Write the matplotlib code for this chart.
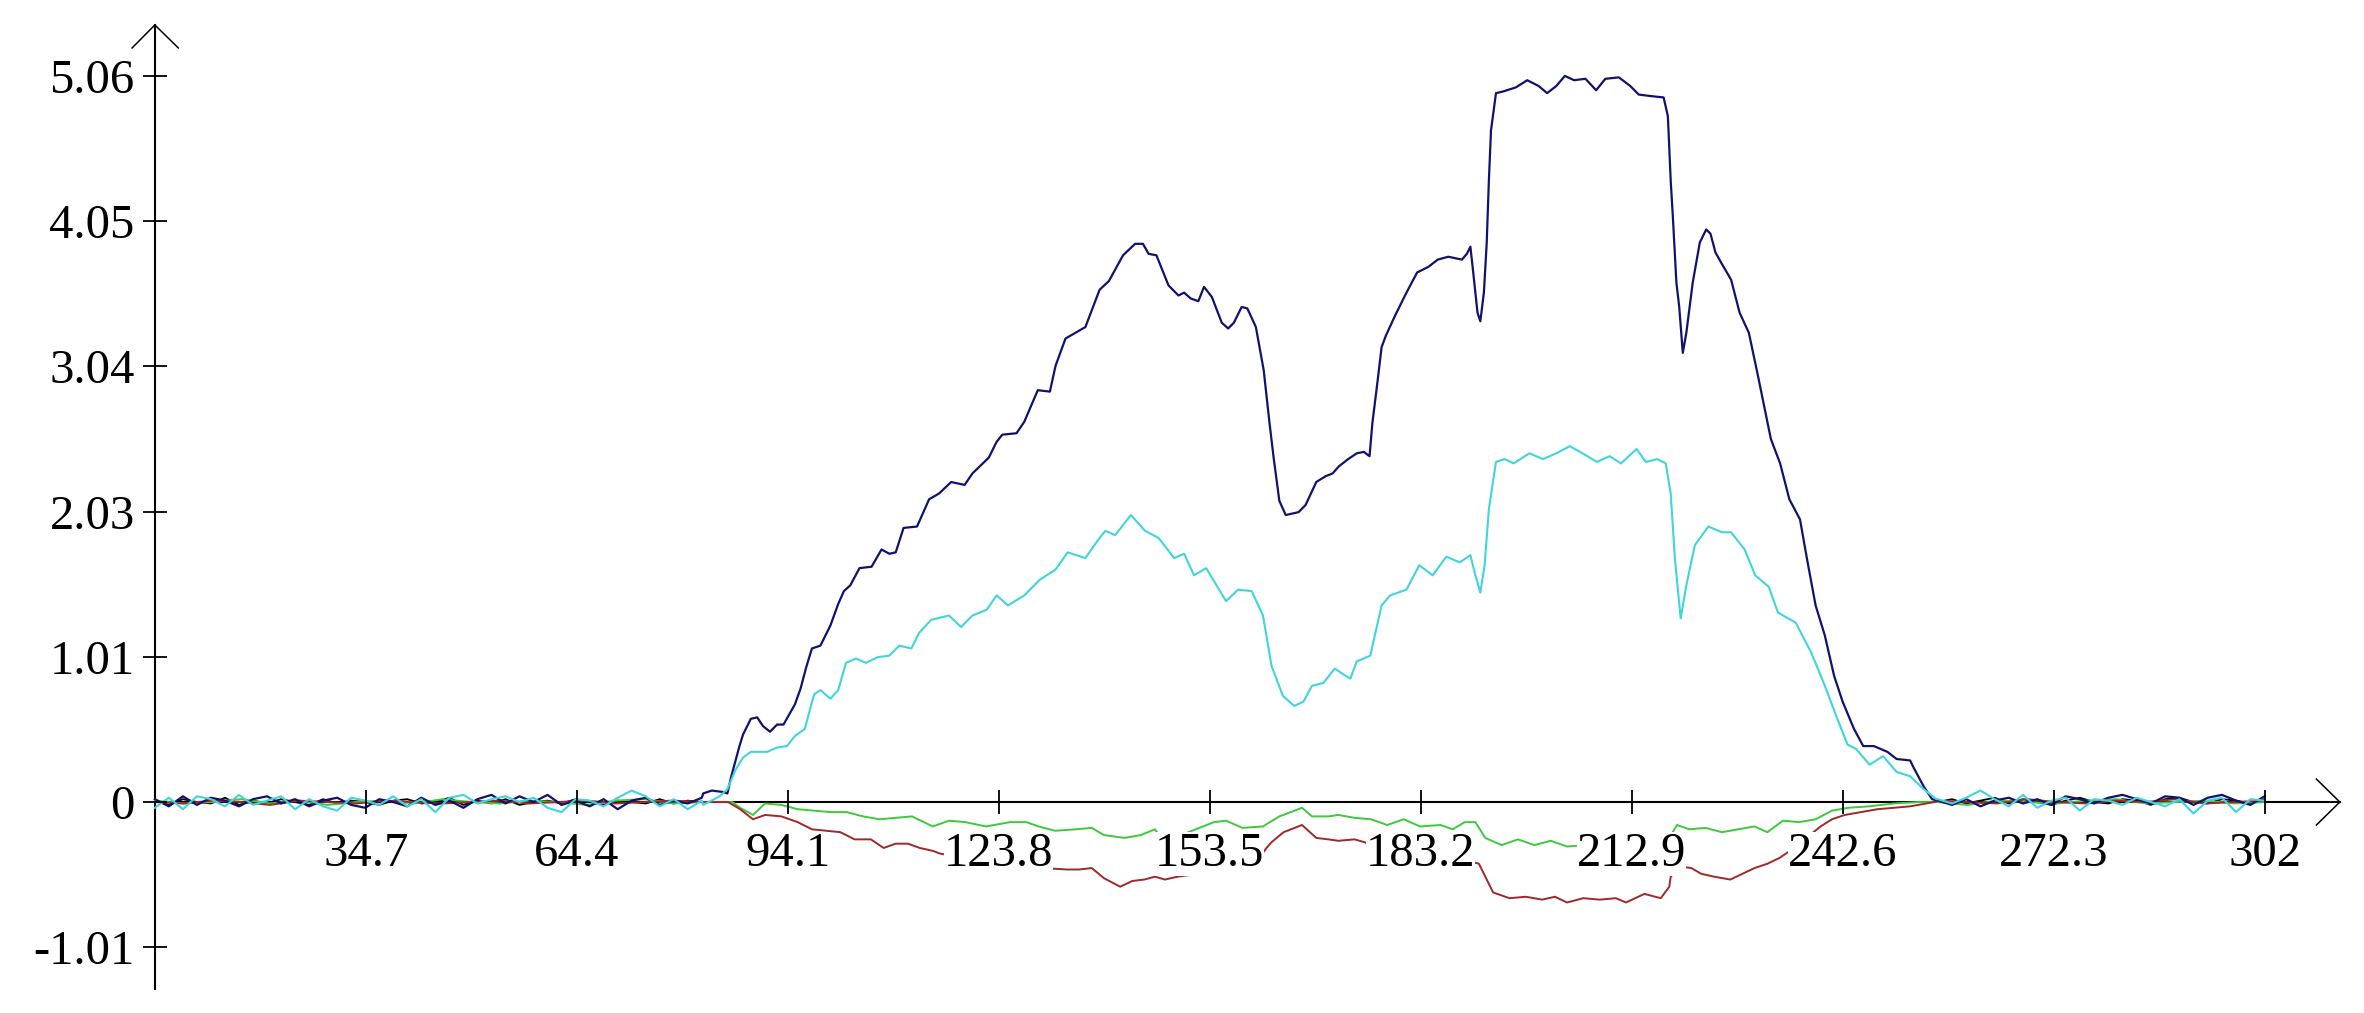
import numpy as np
import matplotlib
matplotlib.use('Agg')
import matplotlib.pyplot as plt

# --- tick values / labels ---
x_ticks = [34.7, 64.4, 94.1, 123.8, 153.5, 183.2, 212.9, 242.6, 272.3, 302]
x_labels = ['34.7', '64.4', '94.1', '123.8', '153.5', '183.2', '212.9', '242.6', '272.3', '302']
y_ticks = [-1.012, 0, 1.012, 2.024, 3.036, 4.048, 5.06]
y_labels = ['-1.01', '0', '1.01', '2.03', '3.04', '4.05', '5.06']

# --- flat noisy parts at both ends ---
navy_noise_l = [0.02, -0.03, 0.04, -0.02, 0.03, 0.01, -0.03, 0.02, 0.04, -0.01,
                0.02, -0.03, 0.01, 0.03, -0.02, -0.04, 0.02, 0.00, -0.03, 0.03,
                -0.02, 0.01, -0.04, 0.02, 0.05, -0.01, 0.04, 0.00, 0.05, -0.02,
                0.01, -0.03, 0.02, -0.05, 0.01, 0.03, -0.02, 0.01, -0.01, 0.03]
cyan_noise_l = [-0.04, 0.03, -0.05, 0.04, 0.02, -0.03, 0.05, -0.02, 0.01, 0.04,
                -0.05, 0.02, -0.03, -0.06, 0.03, 0.01, -0.02, 0.04, -0.03, 0.02,
                -0.07, 0.03, 0.05, -0.01, 0.02, 0.04, 0.00, 0.03, -0.04, -0.07,
                0.02, 0.01, -0.03, 0.03, 0.08, 0.04, -0.03, 0.02, -0.05, 0.01]
black_noise_l = [0.01, -0.02, 0.02, 0.00, -0.01, 0.03, -0.02, 0.01, -0.01, 0.02,
                 0.00, -0.02, 0.02, -0.01, 0.01, 0.00, -0.02, 0.01, 0.02, -0.01,
                 0.00, 0.03, -0.02, 0.01, -0.01, 0.02, -0.02, 0.00, 0.01, -0.01,
                 0.02, 0.00, -0.02, 0.01, 0.00, -0.01, 0.02, -0.01, 0.01, 0.00]
green_noise_l = [0.01, -0.01, 0.00, 0.02, -0.01, 0.01, -0.02, 0.00, 0.01, -0.01,
                 0.02, 0.00, -0.01, 0.01, 0.00, -0.02, 0.01, 0.02, -0.01, 0.00]
red_noise_l = [0.00, -0.01, 0.01, 0.00, -0.02, 0.01, 0.00, -0.01, 0.01, 0.00,
               -0.01, 0.00, 0.01, -0.01, 0.00, 0.01, -0.01, 0.00, 0.01, 0.00]

navy_noise_r = [0.01, -0.02, 0.02, -0.03, 0.01, 0.03, -0.01, 0.02, -0.02, 0.04, 0.02, -0.01,
                0.03, 0.05, 0.02, -0.01, 0.04, 0.03, -0.02, 0.03, 0.05, 0.01, -0.02, 0.04]
cyan_noise_r = [0.02, -0.01, 0.03, 0.08, 0.02, -0.03, 0.05, -0.04, 0.01, 0.03, -0.06, 0.02,
                0.01, -0.02, 0.03, 0.00, -0.03, 0.02, -0.08, 0.01, 0.03, -0.07, 0.02, 0.01]
black_noise_r = [0.00, 0.02, -0.01, 0.01, 0.03, -0.01, 0.02, 0.00, -0.02, 0.01, 0.03, 0.00,
                 -0.01, 0.02, 0.01, -0.02, 0.02, 0.03, 0.00, -0.01, 0.02, 0.01, -0.01, 0.02]
green_noise_r = [0.00, -0.02, 0.01, 0.00, -0.01, 0.01, 0.02, -0.01, 0.00, 0.01, -0.01, 0.00]
red_noise_r = [0.01, 0.00, -0.01, 0.02, 0.00, -0.01, 0.01, 0.00, 0.02, -0.01, 0.00, 0.01]

# --- main signal parts (x, y) ---
navy_pts = [(82.2, 0.06), (83.4, 0.08), (85.0, 0.07), (85.6, 0.06), (86.1, 0.17), (87.3, 0.39),
            (87.8, 0.47), (88.9, 0.58), (89.8, 0.59), (90.6, 0.53), (91.6, 0.49), (92.6, 0.54),
            (93.5, 0.54), (95.1, 0.68), (95.9, 0.79), (96.7, 0.94), (97.5, 1.07), (98.7, 1.09),
            (100.1, 1.23), (101.2, 1.38), (102.0, 1.47), (102.9, 1.51), (104.2, 1.63), (105.9, 1.64),
            (107.3, 1.76), (108.4, 1.73), (109.3, 1.74), (110.4, 1.91), (112.3, 1.92), (114.0, 2.11),
            (115.4, 2.15), (117.1, 2.23), (119.0, 2.21), (120.1, 2.29), (122.4, 2.40), (123.5, 2.51),
            (124.3, 2.56), (126.3, 2.57), (127.4, 2.65), (129.3, 2.87), (131.0, 2.86), (131.8, 3.04),
            (133.2, 3.23), (134.6, 3.27), (136.0, 3.31), (138.0, 3.57), (139.3, 3.63), (141.3, 3.81),
            (143.0, 3.89), (144.1, 3.89), (144.9, 3.82), (146.0, 3.81), (147.7, 3.60), (149.1, 3.53),
            (149.9, 3.55), (150.8, 3.51), (151.9, 3.49), (152.7, 3.59), (153.8, 3.52), (155.2, 3.34),
            (156.1, 3.30), (156.9, 3.34), (158.0, 3.45), (158.8, 3.44), (160.0, 3.31), (161.1, 3.01),
            (161.9, 2.65), (162.5, 2.40), (163.3, 2.10), (164.2, 2.00), (166.0, 2.02), (167.0, 2.07),
            (168.5, 2.23), (169.8, 2.27), (170.8, 2.29), (171.7, 2.34), (173.0, 2.39), (174.2, 2.43),
            (175.2, 2.44), (176.0, 2.41), (176.4, 2.64), (177.1, 2.92), (177.7, 3.17), (178.3, 3.25),
            (179.6, 3.39), (181.2, 3.55), (182.7, 3.69), (184.3, 3.73), (185.6, 3.78), (187.1, 3.80),
            (189.0, 3.78), (189.7, 3.82), (190.2, 3.87), (190.6, 3.69), (191.2, 3.41), (191.6, 3.35),
            (192.1, 3.55), (192.5, 3.90), (192.8, 4.33), (193.1, 4.68), (193.8, 4.94), (194.7, 4.95),
            (196.6, 4.98), (198.2, 5.03), (199.8, 4.99), (201.0, 4.94), (202.3, 4.99), (203.5, 5.06),
            (204.8, 5.03), (206.4, 5.04), (207.9, 4.96), (209.2, 5.04), (211.1, 5.05), (212.7, 4.99),
            (213.9, 4.93), (215.5, 4.92), (217.4, 4.91), (218.0, 4.78), (218.4, 4.33), (218.7, 4.08),
            (219.2, 3.62), (219.6, 3.45), (220.1, 3.13), (220.6, 3.27), (221.5, 3.62), (222.5, 3.90),
            (223.4, 3.99), (224.0, 3.96), (224.7, 3.83), (225.6, 3.75), (226.9, 3.64), (228.1, 3.41),
            (229.4, 3.27), (230.6, 2.99), (232.5, 2.53), (233.8, 2.36), (235.1, 2.11), (236.6, 1.97),
            (237.6, 1.69), (238.8, 1.37), (240.1, 1.16), (241.4, 0.88), (242.6, 0.70), (244.2, 0.51),
            (245.5, 0.39), (247.0, 0.39), (248.9, 0.35), (250.2, 0.30), (252.1, 0.29), (252.7, 0.23),
            (254.0, 0.11), (255.2, 0.02)]

cyan_pts = [(82.2, -0.02), (84.5, 0.04), (85.6, 0.09), (86.7, 0.22), (87.8, 0.31), (88.9, 0.35),
            (91.2, 0.35), (92.6, 0.38), (94.0, 0.39), (95.1, 0.46), (96.5, 0.51), (97.8, 0.75),
            (98.7, 0.78), (100.1, 0.72), (101.2, 0.78), (102.3, 0.97), (103.7, 1.00), (105.1, 0.97),
            (106.8, 1.01), (108.4, 1.02), (109.8, 1.09), (111.5, 1.07), (112.6, 1.18), (114.3, 1.27),
            (116.8, 1.30), (118.5, 1.22), (120.1, 1.30), (122.1, 1.34), (123.5, 1.44), (125.1, 1.37),
            (127.4, 1.44), (129.6, 1.55), (131.8, 1.62), (133.5, 1.74), (136.0, 1.70), (137.7, 1.82),
            (138.8, 1.89), (140.2, 1.86), (142.4, 2.00), (144.4, 1.89), (146.3, 1.84), (148.5, 1.70),
            (149.9, 1.73), (151.3, 1.58), (153.0, 1.63), (155.8, 1.40), (157.5, 1.48), (159.4, 1.47),
            (161.0, 1.30), (162.2, 0.95), (163.8, 0.74), (165.4, 0.67), (166.7, 0.70), (167.9, 0.81),
            (169.5, 0.83), (171.1, 0.93), (172.0, 0.90), (173.3, 0.86), (174.2, 0.98), (176.1, 1.02),
            (177.7, 1.37), (178.9, 1.44), (181.2, 1.48), (183.0, 1.65), (184.9, 1.58), (186.8, 1.71),
            (188.7, 1.67), (190.2, 1.72), (190.9, 1.58), (191.6, 1.46), (192.2, 1.65), (192.8, 2.04),
            (193.8, 2.37), (195.0, 2.39), (196.3, 2.36), (198.5, 2.43), (200.4, 2.39), (202.3, 2.43),
            (204.2, 2.48), (206.0, 2.43), (208.0, 2.37), (209.8, 2.41), (211.4, 2.36), (213.6, 2.46),
            (214.9, 2.37), (216.5, 2.39), (217.7, 2.36), (218.4, 2.15), (219.0, 1.69), (219.8, 1.28),
            (220.6, 1.51), (221.8, 1.79), (223.7, 1.92), (225.6, 1.88), (226.9, 1.88), (228.8, 1.76),
            (230.3, 1.58), (232.2, 1.50), (233.5, 1.32), (236.0, 1.25), (238.2, 1.04), (240.1, 0.81),
            (241.7, 0.60), (243.3, 0.40), (244.5, 0.37), (246.4, 0.26), (248.3, 0.32), (250.2, 0.21),
            (252.1, 0.18), (254.0, 0.09), (255.8, 0.02)]

green_pts = [(82.5, 0.00), (86.3, 0.00), (87.4, -0.04), (89.2, -0.09), (90.9, -0.01), (93.2, -0.02),
             (95.5, -0.05), (97.8, -0.06), (100.1, -0.07), (102.4, -0.07), (104.7, -0.10), (107.0, -0.12),
             (109.3, -0.11), (111.6, -0.10), (114.5, -0.17), (116.8, -0.13), (119.1, -0.14), (122.0, -0.17),
             (125.4, -0.14), (127.7, -0.14), (129.4, -0.17), (131.7, -0.20), (134.6, -0.19), (136.9, -0.18),
             (138.6, -0.23), (141.5, -0.25), (143.8, -0.23), (145.8, -0.19), (146.6, -0.25), (150.0, -0.22),
             (154.1, -0.14), (155.8, -0.13), (158.1, -0.18), (161.0, -0.17), (163.3, -0.10), (166.5, -0.04),
             (167.9, -0.10), (170.2, -0.10), (171.6, -0.09), (173.9, -0.11), (176.2, -0.12), (178.5, -0.16),
             (180.8, -0.12), (183.1, -0.17), (186.0, -0.16), (187.7, -0.19), (189.4, -0.14), (190.9, -0.14),
             (192.3, -0.25), (194.6, -0.30), (196.9, -0.26), (199.2, -0.30), (201.5, -0.27), (203.8, -0.31),
             (206.5, -0.30), (209.5, -0.31), (212.5, -0.29), (215.5, -0.30), (217.8, -0.28), (219.3, -0.16),
             (221.0, -0.19), (223.3, -0.18), (225.6, -0.21), (227.9, -0.19), (230.2, -0.17), (232.0, -0.21),
             (234.2, -0.13), (236.5, -0.14), (238.8, -0.12), (241.1, -0.06), (243.4, -0.04), (246.3, -0.03),
             (249.8, -0.01), (253.2, 0.00), (255.5, 0.00)]

red_pts = [(82.5, 0.00), (85.7, 0.00), (87.4, -0.05), (89.2, -0.12), (90.9, -0.09), (93.2, -0.10),
           (95.5, -0.14), (97.5, -0.19), (99.5, -0.20), (101.5, -0.21), (103.5, -0.26), (105.8, -0.26),
           (107.6, -0.32), (109.3, -0.29), (111.0, -0.29), (112.7, -0.32), (114.5, -0.34), (115.6, -0.36),
           (118.0, -0.38), (121.0, -0.40), (124.0, -0.42), (127.0, -0.44), (130.0, -0.46), (133.4, -0.47),
           (135.1, -0.47), (136.9, -0.46), (138.6, -0.53), (140.9, -0.59), (142.6, -0.55), (144.3, -0.54),
           (145.8, -0.52), (147.2, -0.54), (149.0, -0.52), (152.0, -0.50), (155.0, -0.47), (158.0, -0.48),
           (160.0, -0.42), (161.5, -0.32), (162.2, -0.28), (163.9, -0.21), (166.5, -0.16), (168.5, -0.25),
           (170.2, -0.26), (171.6, -0.27), (173.9, -0.26), (175.3, -0.28), (177.0, -0.32), (179.0, -0.36),
           (182.0, -0.38), (185.0, -0.39), (188.0, -0.40), (190.0, -0.41), (191.4, -0.43), (192.3, -0.52),
           (193.4, -0.63), (195.7, -0.67), (198.0, -0.66), (200.3, -0.68), (202.1, -0.66), (203.8, -0.70),
           (206.1, -0.67), (208.4, -0.68), (210.7, -0.67), (212.1, -0.70), (214.7, -0.64), (217.0, -0.67),
           (218.2, -0.59), (218.4, -0.52), (219.8, -0.45), (221.3, -0.46), (222.7, -0.50), (224.5, -0.52),
           (226.8, -0.54), (228.5, -0.50), (230.2, -0.46), (232.0, -0.43), (233.7, -0.39), (235.5, -0.33),
           (237.5, -0.25), (239.5, -0.17), (241.1, -0.12), (242.9, -0.09), (245.2, -0.07), (247.5, -0.05),
           (249.8, -0.04), (252.1, -0.03), (254.4, -0.01), (255.5, 0.00)]


def build(noise_l, pts, noise_r):
    xl = np.linspace(5, 82, len(noise_l))
    xr = np.linspace(256, 302, len(noise_r))
    px = [p[0] for p in pts]
    py = [p[1] for p in pts]
    return np.concatenate([xl, px, xr]), np.concatenate([noise_l, py, noise_r])


plt.rcParams['font.family'] = 'Liberation Serif'
plt.rcParams['font.size'] = 35

fig = plt.figure(figsize=(23.64, 10.13), dpi=100)
ax = fig.add_axes([0, 0, 1, 1])

# black trace lies on the axis in the middle
bx, by = build(black_noise_l, [(83.0, 0.0), (255.0, 0.0)], black_noise_r)
ax.plot(bx, by, color='black', lw=1.3)
gx, gy = build(green_noise_l, green_pts, green_noise_r)
ax.plot(gx, gy, color='#3ec83e', lw=1.4)
rx, ry = build(red_noise_l, red_pts, red_noise_r)
ax.plot(rx, ry, color='#a02828', lw=1.4)
nx, ny = build(navy_noise_l, navy_pts, navy_noise_r)
ax.plot(nx, ny, color='#12126e', lw=1.6)
cx, cy = build(cyan_noise_l, cyan_pts, cyan_noise_r)
ax.plot(cx, cy, color='#40d4dc', lw=1.5)

ax.set_xlim(-16.8, 316.0)
ax.set_ylim(-1.470, 5.589)

# axes through the origin, with open arrow heads
ax.spines['top'].set_visible(False)
ax.spines['right'].set_visible(False)
ax.spines['left'].set_position(('data', 5))
ax.spines['bottom'].set_position(('data', 0))
ax.spines['left'].set_bounds(-1.30, 5.415)
ax.spines['bottom'].set_bounds(5, 312.6)
for s in ('left', 'bottom'):
    ax.spines[s].set_linewidth(1.5)
    ax.spines[s].set_zorder(1.8)
ax.plot([5 - 3.2, 5, 5 + 3.3], [5.415 - 0.16, 5.415, 5.415 - 0.16], color='black', lw=1.1, clip_on=False)
ax.plot([312.6 - 3.3, 312.6, 312.6 - 3.3], [0.16, 0, -0.16], color='black', lw=1.1, clip_on=False)

ax.set_xticks(x_ticks)
ax.set_xticklabels(x_labels)
ax.set_yticks(y_ticks)
ax.set_yticklabels(y_labels)
ax.tick_params(axis='both', direction='inout', length=17, width=1.3, color='black')
ax.tick_params(axis='x', pad=13)
ax.tick_params(axis='y', pad=6)
ax.set_axisbelow(False)

# the labels sit on white boxes that hide the lines behind them
for t in ax.xaxis.get_major_ticks():
    t.label1.set_bbox(dict(boxstyle='square,pad=0.0', fc='white', ec='none'))

fig.savefig('out.png', dpi=100)
